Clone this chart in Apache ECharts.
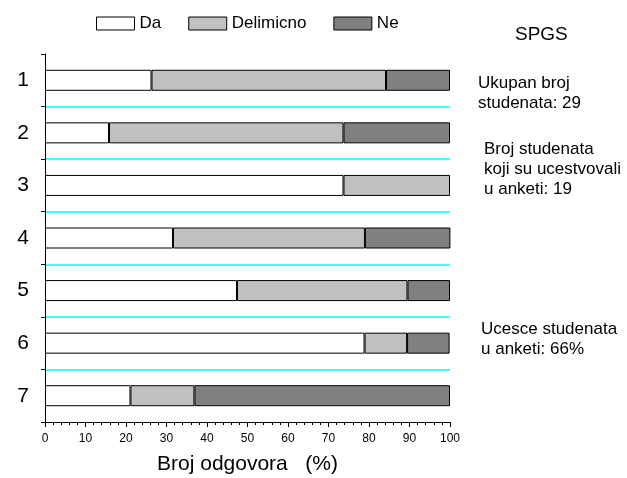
<!DOCTYPE html>
<html>
<head>
<meta charset="utf-8">
<script src="https://cdn.jsdelivr.net/npm/echarts@6/dist/echarts.min.js"></script>
<style>
  html, body { margin: 0; padding: 0; background: #fff; }
  #chart { width: 627px; height: 478px; }
</style>
</head>
<body>
<div id="chart"></div>
<script>
// Questions (rows) and answer shares in percent (null = no answers of that kind)
const questions = ['1', '2', '3', '4', '5', '6', '7'];
const da        = [26.3, 15.8, 73.7, 31.6, 47.4, 78.9, 21.1];
const delimicno = [57.9, 57.9, 26.3, 47.4, 42.1, 10.5, 15.8];
const ne        = [15.8, 26.3, null, 21.1, 10.5, 10.5, 63.1];
const xTicks    = [0, 10, 20, 30, 40, 50, 60, 70, 80, 90, 100];

const FONT = '"Liberation Sans", Arial, sans-serif';

const chart = echarts.init(document.getElementById('chart'));

function barSeries(name, data, color) {
  return {
    name: name,
    type: 'bar',
    stack: 'total',
    data: data,
    barWidth: 21,
    itemStyle: { color: color, borderColor: '#000', borderWidth: 1 },
    emphasis: { disabled: true }
  };
}

chart.setOption({
  animation: false,
  backgroundColor: '#fff',
  textStyle: { fontFamily: FONT, color: '#000' },
  grid: { left: 45, right: 177, top: 54, bottom: 56, outerBoundsMode: 'none', containLabel: false },
  legend: {
    top: 15,
    left: 96,
    padding: 0,
    itemWidth: 38,
    itemHeight: 13,
    itemGap: 27,
    icon: 'rect',
    itemStyle: { borderColor: '#000', borderWidth: 1 },
    textStyle: { fontFamily: FONT, fontSize: 17, color: '#000' },
    data: ['Da', 'Delimicno', 'Ne']
  },
  xAxis: {
    type: 'value',
    min: xTicks[0],
    max: xTicks[xTicks.length - 1],
    interval: 10,
    name: 'Broj odgovora   (%)',
    nameLocation: 'middle',
    nameGap: 32,
    nameTextStyle: { fontFamily: FONT, fontSize: 21, color: '#000' },
    axisLine: { show: true, lineStyle: { color: '#000', width: 1 } },
    axisTick: { show: true, length: 5, lineStyle: { color: '#000' } },
    minorTick: { show: true, splitNumber: 5, length: 3, lineStyle: { color: '#000' } },
    axisLabel: { fontFamily: FONT, fontSize: 12, color: '#000', margin: 11 },
    splitLine: { show: false }
  },
  yAxis: {
    type: 'category',
    data: questions,
    inverse: true,
    axisLine: { show: true, lineStyle: { color: '#000', width: 1 } },
    axisTick: { show: true, length: 4, lineStyle: { color: '#000' } },
    axisLabel: { fontFamily: FONT, fontSize: 21, color: '#000', margin: 16 },
    splitLine: {
      show: true,
      showMinLine: false,
      showMaxLine: false,
      lineStyle: { color: '#00ffff', width: 1.5 }
    }
  },
  graphic: [
    { type: 'text', left: 515, top: 25, style: { text: 'SPGS', font: '19px ' + FONT, fill: '#000' } },
    { type: 'text', left: 478, top: 73, style: { text: 'Ukupan broj\nstudenata: 29', font: '17px ' + FONT, fill: '#000', lineHeight: 20 } },
    { type: 'text', left: 484, top: 139, style: { text: 'Broj studenata\nkoji su ucestvovali\nu anketi: 19', font: '17px ' + FONT, fill: '#000', lineHeight: 20 } },
    { type: 'text', left: 481, top: 319, style: { text: 'Ucesce studenata\nu anketi: 66%', font: '17px ' + FONT, fill: '#000', lineHeight: 20 } }
  ],
  series: [
    barSeries('Da', da, '#ffffff'),
    barSeries('Delimicno', delimicno, '#c0c0c0'),
    barSeries('Ne', ne, '#808080')
  ]
});
</script>
</body>
</html>
